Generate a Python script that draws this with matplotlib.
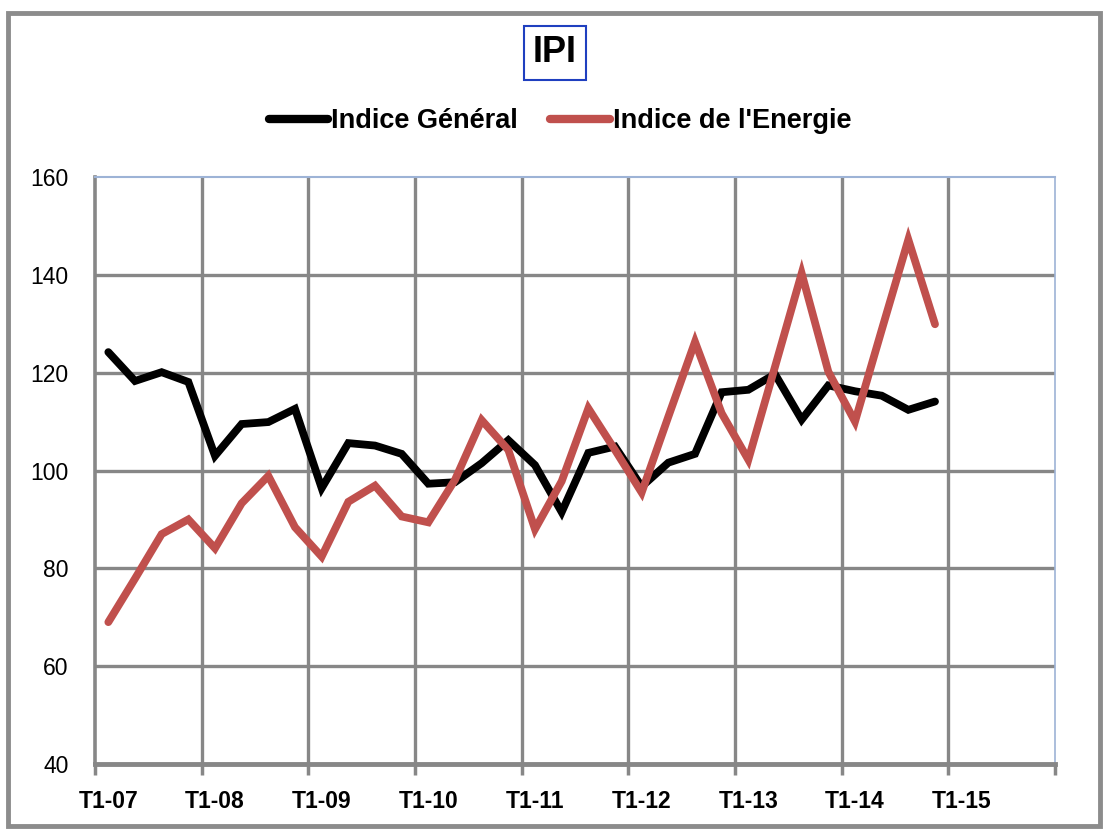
import matplotlib
matplotlib.use("Agg")
import matplotlib.pyplot as plt
from matplotlib.patches import Rectangle
import numpy as np

title = "IPI"
series_names = ["Indice Général", "Indice de l'Energie"]
year_labels = ["T1-07", "T1-08", "T1-09", "T1-10", "T1-11", "T1-12", "T1-13", "T1-14", "T1-15"]
n_categories = 36

indice_general = [124.2, 118.3, 120.1, 118.1, 103.0, 109.5, 109.9, 112.6,
                  96.4, 105.6, 105.1, 103.4, 97.3, 97.6, 101.5, 106.2,
                  101.1, 91.5, 103.6, 104.9, 96.7, 101.6, 103.4, 116.0,
                  116.5, 119.7, 110.4, 117.4, 116.2, 115.3, 112.4, 114.1]
indice_energie = [69.0, 77.9, 87.0, 90.0, 84.1, 93.3, 98.9, 88.4,
                  82.4, 93.6, 96.9, 90.6, 89.4, 98.1, 110.3, 104.2,
                  88.0, 97.8, 112.7, 104.2, 95.5, 111.0, 126.3, 111.7,
                  102.2, 121.2, 140.3, 120.2, 110.0, 128.7, 147.2, 129.9]

colors = ["#000000", "#C0504D"]
grid_gray = "#878787"
plt.rcParams['font.family'] = ["Liberation Sans", "DejaVu Sans"]

fig = plt.figure(figsize=(11.07, 8.30), dpi=100)
fig.patch.set_facecolor("white")

# outer chart border
fig.add_artist(Rectangle((8/1107, 1-826/830), (1100-8)/1107, (826-13)/830,
                         transform=fig.transFigure, fill=False,
                         edgecolor="#8c8c8c", linewidth=3.5))

ax = fig.add_axes([95/1107, 1-764/830, (1055-95)/1107, (764-177)/830])
ax.plot(np.arange(len(indice_general)), indice_general, color=colors[0], linewidth=5.6,
        solid_joinstyle="miter", solid_capstyle="round", label=series_names[0], zorder=3)
ax.plot(np.arange(len(indice_energie)), indice_energie, color=colors[1], linewidth=5.6,
        solid_joinstyle="miter", solid_capstyle="round", label=series_names[1], zorder=3)

ax.set_xlim(-0.5, n_categories - 0.5)
ax.set_ylim(40, 160)
ax.set_yticks(np.arange(40, 161, 20))

major = [-0.5 + 4 * k for k in range(10)]
ax.set_xticks(major)
ax.set_xticklabels([""] * len(major))
ax.set_xticks([4 * k for k in range(len(year_labels))], minor=True)
ax.set_xticklabels(year_labels, minor=True, fontweight="bold", fontsize=16.5)
ax.tick_params(axis="x", which="major", length=8, width=2.5, color=grid_gray, direction="out")
ax.tick_params(axis="x", which="minor", length=0, pad=19)
ax.tick_params(axis="y", length=0, labelsize=16.5, pad=19)

for xv in major[1:-1]:
    ax.axvline(xv, color=grid_gray, linewidth=2.4, zorder=1)
for yv in range(60, 160, 20):
    ax.axhline(yv, color=grid_gray, linewidth=2.4, zorder=1)

ax.spines["left"].set_color(grid_gray)
ax.spines["left"].set_linewidth(2.6)
ax.spines["bottom"].set_color(grid_gray)
ax.spines["bottom"].set_linewidth(3.5)
ax.spines["top"].set_color("#9db3d6")
ax.spines["top"].set_linewidth(1.5)
ax.spines["right"].set_color("#9db3d6")
ax.spines["right"].set_linewidth(1.2)

fig.text(555/1107, 1-53/830, title, ha="center", va="center", fontsize=26,
         fontweight="bold",
         bbox=dict(boxstyle="square,pad=0.25", facecolor="white", edgecolor="#1f3fbf", linewidth=1.5))

leg = fig.legend(loc="center", bbox_to_anchor=(560/1107, 1-121/830), ncol=2,
                 frameon=False, prop={"weight": "bold", "size": 19.5},
                 handlelength=2.2, handletextpad=0.1, columnspacing=1.2)
for line in leg.get_lines():
    line.set_linewidth(6)
    line.set_solid_capstyle("round")

fig.savefig("out.png", dpi=100, facecolor="white")
